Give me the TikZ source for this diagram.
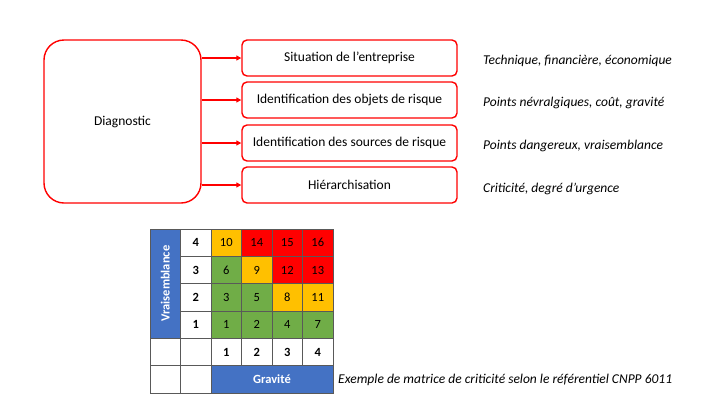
\documentclass[tikz,border=0pt]{standalone}
\usepackage{fontspec}
\setmainfont{Carlito}
\usetikzlibrary{arrows.meta,positioning}
\definecolor{rouge}{HTML}{FF0000}
\definecolor{cO}{HTML}{FFC000}
\definecolor{cR}{HTML}{FF0000}
\definecolor{cV}{HTML}{70AD47}
\definecolor{cB}{HTML}{4472C4}
\begin{document}
\begin{tikzpicture}[x=1pt, y=-1pt, every node/.style={font=\fontsize{13.5}{16}\selectfont}]
\tikzset{
  big/.style={draw=rouge, line width=1.4pt, rounded corners=20pt, minimum width=157pt, minimum height=163pt},
  box/.style={draw=rouge, line width=1.4pt, rounded corners=5pt, minimum width=215pt, minimum height=36pt, inner sep=0pt},
  arr/.style={draw=rouge, line width=1.4pt, -{Triangle[length=5pt,width=5pt]}},
  note/.style={anchor=west, inner sep=0pt, font=\fontsize{13.5}{16}\selectfont\itshape},
  cell/.style={draw=gray!70!black, line width=0.6pt, minimum width=30.5pt, minimum height=27.33pt, inner sep=0pt, font=\fontsize{12.5}{14}\selectfont},
  num/.style={cell, font=\fontsize{12.5}{14}\selectfont\bfseries},
  axe/.style={draw=gray!70!black, line width=0.6pt, fill=cB, text=white, inner sep=0pt, font=\fontsize{12.5}{14}\selectfont\bfseries}
}
\useasboundingbox (0,0) rectangle (720,405);

% --- diagnostic ---
\node[big] (diag) at (122.5,121.5) {Diagnostic};
\node[box] (b1) at (349.5,58) {Situation de l’entreprise};
\node[box] (b2) at (349.5,100) {Identification des objets de risque};
\node[box] (b3) at (349.5,143) {Identification des sources de risque};
\node[box] (b4) at (349.5,185) {Hiérarchisation};
\draw[arr] (diag.east |- b1.west) -- (b1.west);
\draw[arr] (diag.east |- b2.west) -- (b2.west);
\draw[arr] (diag.east |- b3.west) -- (b3.west);
\draw[arr] (diag.east |- b4.west) -- (b4.west);

\node[note] (n1) at (483,61) {Technique, financière, économique};
\node[note] (n2) at (483,103) {Points névralgiques, coût, gravité};
\node[note] (n3) at (483,146) {Points dangereux, vraisemblance};
\node[note] (n4) at (483,189) {Criticité, degré d’urgence};

% --- matrice de criticite ---
\foreach \vals [count=\r from 0] in {{10/cO,14/cR,15/cR,16/cR},{6/cV,9/cO,12/cR,13/cR},{3/cV,5/cV,8/cO,11/cO},{1/cV,2/cV,4/cV,7/cV}}
  \foreach \v/\k [count=\c from 2] in \vals
    \node[cell, fill=\k] (m-\r-\c) at (165.25+30.5*\c, 242.67+27.33*\r) {\v};
\foreach \n [count=\r from 0] in {4,3,2,1}
  \node[num] (v-\n) at (195.75, 242.67+27.33*\r) {\n};
\foreach \n in {1,...,4}
  \node[num] (g-\n) at (165.25+30.5*\n+30.5, 352) {\n};
\node[cell] (e1) at (165.25,352) {};
\node[cell] (e2) at (195.75,352) {};
\node[cell] (e3) at (165.25,379.33) {};
\node[cell] (e4) at (195.75,379.33) {};
\node[axe, rotate=90, minimum width=109.33pt, minimum height=30.5pt] (vrai) at (165.25,283.67) {Vraisemblance};
\node[axe, minimum width=122pt, minimum height=27.33pt] (grav) at (272,379.33) {Gravité};

\node[note] (cap) at (338,380) {Exemple de matrice de criticité selon le référentiel CNPP 6011};
\end{tikzpicture}
\end{document}
